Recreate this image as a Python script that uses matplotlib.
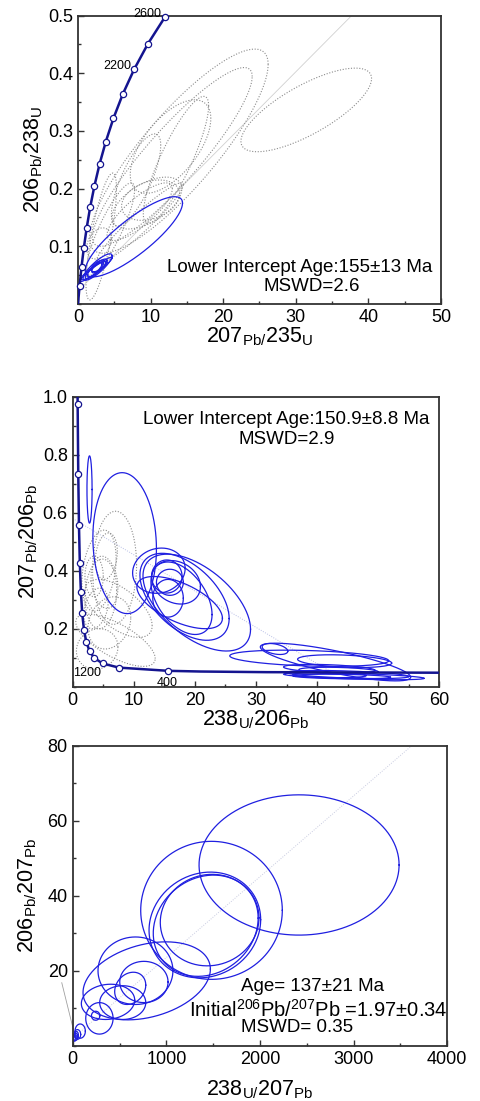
import numpy as np
import matplotlib
matplotlib.use('Agg')
import matplotlib.pyplot as plt
from matplotlib.ticker import MultipleLocator

plt.rcParams['font.family'] = ['Liberation Sans', 'DejaVu Sans']
plt.rcParams['mathtext.fontset'] = 'custom'
plt.rcParams['mathtext.rm'] = 'Liberation Sans'
plt.rcParams['mathtext.it'] = 'Liberation Sans'

# ---- panel 1: Wetherill concordia (207Pb/235U vs 206Pb/238U) ----
conc1_age = [0, 200, 400, 600, 800, 1000, 1200, 1400, 1600, 1800, 2000, 2200, 2400, 2600]
conc1_x = [0.0, 0.218, 0.483, 0.806, 1.199, 1.677, 2.260, 2.970, 3.835, 4.887, 6.169, 7.729, 9.630, 11.944]
conc1_y = [0.0, 0.0315, 0.0640, 0.0975, 0.1321, 0.1678, 0.2046, 0.2426, 0.2817, 0.3221, 0.3638, 0.4067, 0.4511, 0.4968]
disc1_x = [0.166, 37.7]
disc1_y = [0.0244, 0.5]

# blue ellipses: centre, half-width, half-height, correlation
p1_blue_cx = [7.7, 2.7, 2.5, 2.4, 2.6, 2.2, 2.8, 2.5]
p1_blue_cy = [0.1165, 0.064, 0.061, 0.060, 0.063, 0.058, 0.066, 0.060]
p1_blue_sx = [6.7, 2.0, 1.5, 1.1, 0.7, 1.8, 1.0, 2.2]
p1_blue_sy = [0.0695, 0.023, 0.017, 0.013, 0.009, 0.016, 0.010, 0.021]
p1_blue_r = [0.84, 0.85, 0.85, 0.8, 0.7, 0.9, 0.6, 0.95]

p1_grey_cx = [13.9, 31.45, 13.0, 12.75, 13.5, 8.0, 3.2, 9.5, 10.0, 8.5, 2.9, 8.5, 4.5]
p1_grey_cy = [0.265, 0.3365, 0.255, 0.273, 0.25, 0.215, 0.117, 0.175, 0.18, 0.16, 0.105, 0.14, 0.13]
p1_grey_sx = [12.3, 9.0, 11.0, 5.55, 4.5, 3.4, 2.1, 4.8, 4.0, 4.5, 1.7, 6.0, 3.3]
p1_grey_sy = [0.177, 0.0725, 0.155, 0.081, 0.11, 0.08, 0.11, 0.045, 0.035, 0.05, 0.027, 0.07, 0.08]
p1_grey_r = [0.85, 0.75, 0.9, 0.6, 0.85, 0.75, 0.75, 0.55, 0.3, 0.8, 0.3, 0.95, 0.85]

# ---- panel 2: Tera-Wasserburg (238U/206Pb vs 207Pb/206Pb) ----
conc2_x = [60.0, 31.74, 20.99, 15.63, 7.568, 4.888, 3.550, 2.749, 2.217, 1.838, 1.556, 1.337, 1.163, 1.022, 0.905, 0.806, 0.763]
conc2_y = [0.0482, 0.0501, 0.0523, 0.0547, 0.0658, 0.0801, 0.0987, 0.1230, 0.1548, 0.1968, 0.2524, 0.3264, 0.4249, 0.5570, 0.7347, 0.974, 1.123]
conc2_mark_x = [15.63, 7.568, 4.888, 3.550, 2.749, 2.217, 1.838, 1.556, 1.337, 1.163, 1.022, 0.905, 0.806]
conc2_mark_y = [0.0547, 0.0658, 0.0801, 0.0987, 0.1230, 0.1548, 0.1968, 0.2524, 0.3264, 0.4249, 0.5570, 0.7347, 0.974]
disc2_x = [0.0, 42.2]
disc2_y = [0.58, 0.052]

p2_blue_cx = [2.75, 8.5, 14.1, 20.3, 18.3, 17.8, 15.9, 16.9, 15.6, 17.5, 15.4,
              38.7, 33.1, 43.0, 44.5, 42.0, 43.5, 46.0, 44.0, 42.0, 45.0]
p2_blue_cy = [0.68, 0.495, 0.40, 0.29, 0.31, 0.305, 0.36, 0.36, 0.305, 0.29, 0.38,
              0.098, 0.130, 0.085, 0.088, 0.062, 0.055, 0.036, 0.035, 0.040, 0.042]
p2_blue_sx = [0.42, 5.2, 4.3, 8.8, 7.3, 5.0, 2.2, 4.0, 2.5, 7.0, 2.5,
              13.0, 2.1, 12.3, 7.7, 7.5, 6.5, 11.5, 8.0, 6.0, 10.0]
p2_blue_sy = [0.116, 0.243, 0.078, 0.167, 0.15, 0.125, 0.045, 0.075, 0.065, 0.09, 0.057,
              0.028, 0.019, 0.065, 0.022, 0.015, 0.012, 0.012, 0.008, 0.009, 0.014]
p2_blue_r = [0.0, -0.08, 0.1, -0.55, -0.5, -0.45, 0.0, -0.2, 0.0, -0.6, 0.0,
             -0.3, -0.4, -0.8, -0.3, -0.4, -0.3, -0.6, -0.3, -0.2, -0.5]

p2_grey_cx = [6.85, 4.3, 5.2, 4.6, 6.0, 7.5, 7.0, 3.5, 5.5, 3.8, 4.0]
p2_grey_cy = [0.41, 0.40, 0.36, 0.32, 0.22, 0.27, 0.16, 0.38, 0.45, 0.27, 0.13]
p2_grey_sx = [3.6, 2.8, 2.2, 2.6, 3.5, 5.5, 6.5, 1.5, 1.8, 2.0, 3.4]
p2_grey_sy = [0.195, 0.14, 0.09, 0.12, 0.09, 0.10, 0.09, 0.07, 0.08, 0.07, 0.07]
p2_grey_r = [0.05, 0.3, -0.2, 0.1, 0.2, -0.6, -0.7, 0.0, 0.2, 0.3, 0.1]

# ---- panel 3: 238U/207Pb vs 206Pb/207Pb isochron ----
iso_x = [0.0, 3620.0]
iso_y = [1.97, 80.0]
iso_tail_x = [14.0, -117.0]
iso_tail_y = [3.6, 16.8]

p3_cx = [2417, 1482, 1411, 1462, 1420, 790, 670, 760, 614, 377, 534, 285, 245, 80, 50, 30, 20, 40]
p3_cy = [48.2, 36.1, 32.2, 33.5, 32.0, 17.3, 20.0, 17.0, 15.3, 11.7, 11.5, 7.3, 8.0, 3.9, 3.0, 2.4, 2.0, 2.9]
p3_sx = [1068, 756, 596, 527, 560, 680, 400, 258, 166, 285, 246, 146, 45, 55, 35, 25, 15, 20]
p3_sy = [18.7, 18.4, 14.1, 12.2, 13.5, 10.4, 9.0, 5.5, 4.3, 4.7, 4.5, 4.2, 1.2, 1.9, 1.3, 1.0, 0.8, 0.9]
p3_r = [0.0, 0.0, 0.1, 0.05, 0.15, 0.3, 0.0, 0.0, 0.2, 0.1, 0.0, 0.0, 0.0, 0.0, 0.0, 0.0, 0.0, 0.0]

BLUE = '#1f1fe0'
NAVY = '#14148f'
GREY = '#8c8c8c'
TXT = 13.5


def draw_ellipses(ax, cx, cy, sx, sy, rho, **kw):
    t = np.linspace(0, 2 * np.pi, 240)
    for x0, y0, a, b, r in zip(cx, cy, sx, sy, rho):
        xs = x0 + a * np.cos(t)
        ys = y0 + b * (r * np.cos(t) + np.sqrt(1 - r * r) * np.sin(t))
        ax.plot(xs, ys, **kw)


def style_axes(ax):
    for s in ax.spines.values():
        s.set_linewidth(1.3)
        s.set_color('#333333')
    ax.tick_params(which='both', direction='in', top=False, right=False,
                   labelsize=13, colors='#333333', labelcolor='black')
    ax.tick_params(which='major', length=4, width=1)
    ax.tick_params(which='minor', length=2.5, width=1)


fig = plt.figure(figsize=(4.8, 11.01), dpi=100)

# panel 1
ax1 = fig.add_axes([0.1625, 0.7239, 0.756, 0.2619])
ax1.plot(disc1_x, disc1_y, color='#d0d0d0', lw=0.6)
draw_ellipses(ax1, p1_grey_cx, p1_grey_cy, p1_grey_sx, p1_grey_sy, p1_grey_r,
              color=GREY, lw=0.8, ls=(0, (1, 1.5)))
draw_ellipses(ax1, p1_blue_cx, p1_blue_cy, p1_blue_sx, p1_blue_sy, p1_blue_r,
              color=BLUE, lw=0.9)
ax1.plot(conc1_x, conc1_y, color=NAVY, lw=1.8, zorder=5)
ax1.plot(conc1_x[1:], conc1_y[1:], 'o', ms=4.5, mfc='white', mec=NAVY, mew=0.9,
         zorder=6, clip_on=False)
ax1.text(11.5, 0.503, '2600', ha='right', va='center', fontsize=9)
ax1.text(7.4, 0.413, '2200', ha='right', va='center', fontsize=9)
ax1.text(30.6, 0.0624, 'Lower Intercept Age:155\u00b113 Ma', ha='center', va='center', fontsize=TXT)
ax1.text(32.2, 0.030, 'MSWD=2.6', ha='center', va='center', fontsize=TXT)
ax1.set_xlim(0, 50)
ax1.set_ylim(0, 0.5)
ax1.set_xticks([0, 10, 20, 30, 40, 50])
ax1.set_yticks([0.1, 0.2, 0.3, 0.4, 0.5])
ax1.xaxis.set_minor_locator(MultipleLocator(5))
ax1.yaxis.set_minor_locator(MultipleLocator(0.05))
ax1.set_xlabel(r'207$_{\mathrm{Pb/}}$235$_{\mathrm{U}}$', fontsize=15.5, labelpad=0)
ax1.set_ylabel(r'206$_{\mathrm{Pb/}}$238$_{\mathrm{U}}$', fontsize=15.5, labelpad=2)
style_axes(ax1)

# panel 2
ax2 = fig.add_axes([0.1515, 0.3763, 0.7638, 0.2634])
ax2.plot(disc2_x, disc2_y, color='#b8bfe6', lw=0.7, ls=(0, (1, 1.5)))
draw_ellipses(ax2, p2_grey_cx, p2_grey_cy, p2_grey_sx, p2_grey_sy, p2_grey_r,
              color=GREY, lw=0.8, ls=(0, (1, 1.5)))
draw_ellipses(ax2, p2_blue_cx, p2_blue_cy, p2_blue_sx, p2_blue_sy, p2_blue_r,
              color=BLUE, lw=0.9)
ax2.plot(conc2_x, conc2_y, color=NAVY, lw=1.8, zorder=5)
ax2.plot(conc2_mark_x, conc2_mark_y, 'o', ms=4.5, mfc='white', mec=NAVY, mew=0.9, zorder=6)
ax2.text(0.0, 0.0486, '1200', ha='left', va='center', fontsize=9)
ax2.text(15.5, 0.013, '400', ha='center', va='center', fontsize=9)
ax2.text(34.96, 0.92, 'Lower Intercept Age:150.9\u00b18.8 Ma', ha='center', va='center', fontsize=TXT)
ax2.text(35.0, 0.852, 'MSWD=2.9', ha='center', va='center', fontsize=TXT)
ax2.set_xlim(0, 60)
ax2.set_ylim(0, 1.0)
ax2.set_xticks([0, 10, 20, 30, 40, 50, 60])
ax2.set_yticks([0.2, 0.4, 0.6, 0.8, 1.0])
ax2.set_yticklabels(['0.2', '0.4', '0.6', '0.8', '1.0'])
ax2.xaxis.set_minor_locator(MultipleLocator(5))
ax2.yaxis.set_minor_locator(MultipleLocator(0.1))
ax2.set_xlabel(r'238$_{\mathrm{U/}}$206$_{\mathrm{Pb}}$', fontsize=15.5, labelpad=0)
ax2.set_ylabel(r'207$_{\mathrm{Pb/}}$206$_{\mathrm{Pb}}$', fontsize=15.5, labelpad=2)
style_axes(ax2)

# panel 3
ax3 = fig.add_axes([0.1515, 0.0502, 0.7804, 0.2725])
ax3.plot(iso_x, iso_y, color='#c8cbe0', lw=0.7, ls=(0, (1, 1.5)))
ax3.plot(iso_tail_x, iso_tail_y, color='#a0a0a0', lw=0.6, clip_on=False)
draw_ellipses(ax3, p3_cx, p3_cy, p3_sx, p3_sy, p3_r, color=BLUE, lw=0.9)
ax3.text(2557, 15.7, 'Age= 137\u00b121 Ma', ha='center', va='center', fontsize=TXT)
ax3.text(2619, 9.7, r'Initial$^{206}$Pb/$^{207}$Pb =1.97$\pm$0.34', ha='center', va='center',
         fontsize=14.5)
ax3.text(2392, 4.9, 'MSWD= 0.35', ha='center', va='center', fontsize=TXT)
ax3.set_xlim(0, 4000)
ax3.set_ylim(0, 80)
ax3.set_xticks([0, 1000, 2000, 3000, 4000])
ax3.set_yticks([20, 40, 60, 80])
ax3.xaxis.set_minor_locator(MultipleLocator(500))
ax3.yaxis.set_minor_locator(MultipleLocator(10))
ax3.set_xlabel(r'238$_{\mathrm{U/}}$207$_{\mathrm{Pb}}$', fontsize=15.5, labelpad=8)
ax3.set_ylabel(r'206$_{\mathrm{Pb/}}$207$_{\mathrm{Pb}}$', fontsize=15.5, labelpad=6)
style_axes(ax3)

fig.savefig('out.png', dpi=100)
